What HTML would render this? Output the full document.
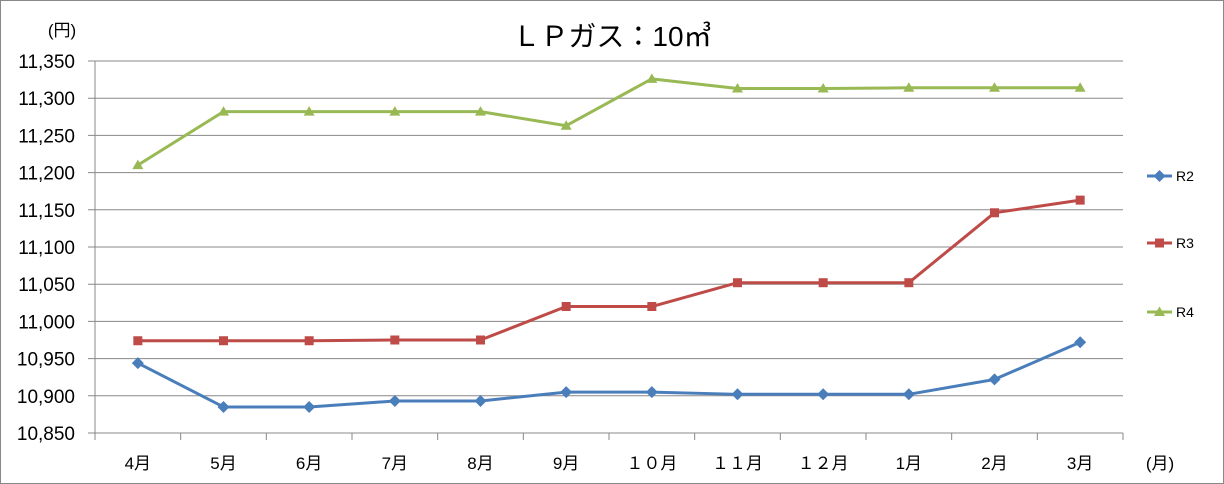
<!DOCTYPE html>
<html><head><meta charset="utf-8"><style>
body{margin:0;background:#fff}
svg{display:block;font-family:"Liberation Sans","Noto Sans CJK JP",sans-serif}
</style></head><body>
<svg id="c" width="1224" height="484">
<rect x="0.5" y="0.5" width="1223" height="483" fill="#fff" stroke="#888"/>
<text x="612" y="46" text-anchor="middle" font-size="28" fill="#000">ＬＰガス：10㎥</text>
<text x="62" y="36" text-anchor="middle" font-size="17">(円)</text>
<text x="1160" y="469" text-anchor="middle" font-size="17">(月)</text>
<g id="grid"></g><g id="series"></g><g id="legend"></g>
</svg>
<script>
const categories=["4月","5月","6月","7月","8月","9月","１０月","１１月","１２月","1月","2月","3月"];
const yTicks=[10850,10900,10950,11000,11050,11100,11150,11200,11250,11300,11350];
const seriesNames=["R2","R3","R4"];
const r2=[10944,10885,10885,10893,10893,10905,10905,10902,10902,10902,10922,10972];
const r3=[10974,10974,10974,10975,10975,11020,11020,11052,11052,11052,11146,11163];
const r4=[11210,11282,11282,11282,11282,11263,11326,11313,11313,11314,11314,11314];
const NS="http://www.w3.org/2000/svg";
const L=95,R=1123,T=61,B=433,yMin=10850,yMax=11350;
const bw=(R-L)/categories.length;
const xs=i=>L+bw*(i+0.5);
const ys=v=>B-(v-yMin)/(yMax-yMin)*(B-T);
function mk(t,a,p){const e=document.createElementNS(NS,t);for(const k in a)e.setAttribute(k,a[k]);p.appendChild(e);return e;}
const g=document.getElementById('grid');
yTicks.forEach(v=>{
 const l=mk('line',{x1:88,x2:R,y1:ys(v),y2:ys(v),stroke:'#888','stroke-width':1},g);
 
 
 const t=mk('text',{x:75,y:ys(v)+7,'text-anchor':'end','font-size':19},g);
 t.textContent=v.toLocaleString('en-US');
 
 
});
const ax=mk('line',{x1:L,x2:L,y1:T,y2:B+7,stroke:'#888'},g);


for(let i=0;i<=categories.length;i++){
 const tk=mk('line',{x1:L+bw*i,x2:L+bw*i,y1:B,y2:B+7,stroke:'#888'},g);
 
 
}
categories.forEach((c,i)=>{
 const t=mk('text',{x:xs(i),y:469,'text-anchor':'middle','font-size':17},g);
 t.textContent=c;
 
 
});
const colors=["#4a7ebb","#be4b48","#98b954"];
const data=[r2,r3,r4];
const sg=document.getElementById('series');
function marker(k,x,y,p){
 let e;
 if(k==0)e=mk('polygon',{points:`${x},${y-6} ${x+6},${y} ${x},${y+6} ${x-6},${y}`,fill:colors[k]},p);
 else if(k==1)e=mk('rect',{x:x-4.5,y:y-4.5,width:9,height:9,fill:colors[k]},p);
 else e=mk('polygon',{points:`${x},${y-5.5} ${x+5.5},${y+4} ${x-5.5},${y+4}`,fill:colors[k]},p);
 return e;
}
data.forEach((d,k)=>{
 const pl=mk('polyline',{points:d.map((v,i)=>xs(i)+','+ys(v)).join(' '),fill:'none',stroke:colors[k],'stroke-width':3,'stroke-linejoin':'round'},sg);
 
 
 d.forEach((v,i)=>{
  const m=marker(k,xs(i),ys(v),sg);
  
  
 });
});
const lg=document.getElementById('legend');
const ly=[176,243,312];
seriesNames.forEach((n,k)=>{
 const l=mk('line',{x1:1147,x2:1172,y1:ly[k],y2:ly[k],stroke:colors[k],'stroke-width':3},lg);
 
 
 const m=marker(k,1159.5,ly[k],lg);
 
 
 const t=mk('text',{x:1176,y:ly[k]+5,'font-size':14},lg);
 t.textContent=n;
 
 
});
</script>
</body></html>
